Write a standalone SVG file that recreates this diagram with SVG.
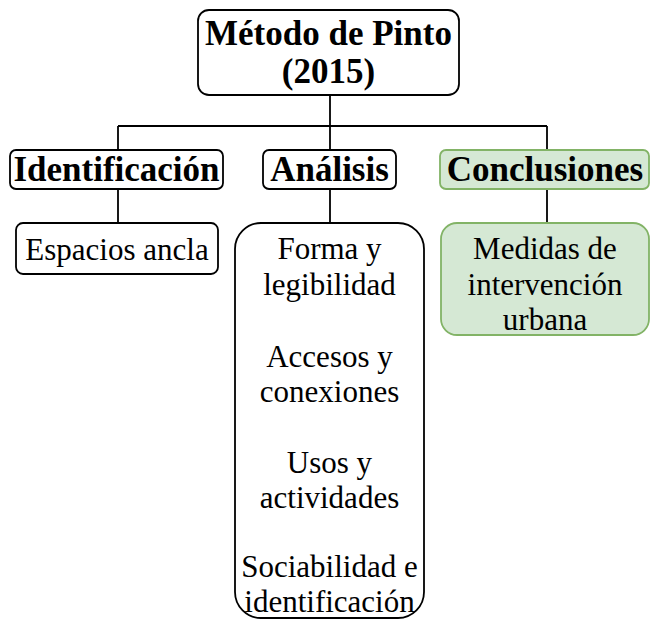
<svg xmlns="http://www.w3.org/2000/svg" width="652" height="620" viewBox="0 0 652 620">
<style>
.box{fill:#fff;stroke:#000;stroke-width:1.8}
.green{fill:#d5e8d4;stroke:#82b366;stroke-width:1.8}
.t{font-family:"Liberation Serif","Times New Roman",serif;font-size:31px;fill:#000;text-anchor:middle}
.b{font-family:"Liberation Serif","Times New Roman",serif;font-size:35px;font-weight:bold;fill:#000;text-anchor:middle}
.c{fill:none;stroke:#000;stroke-width:1.8}
</style>
<g id="connectors">
<path class="c" d="M330 95V126M118 126H547M118 126V150M330 126V150M547 126V150"/>
<path class="c" d="M118 189V223M330 189V223M547 189V223"/>
</g>
<g id="root">
<rect class="box" x="198" y="10" width="261" height="85" rx="11"/>
<text class="b" x="328.500" y="45">Método de Pinto</text>
<text class="b" x="328.500" y="83">(2015)</text>
</g>
<g id="identificacion">
<rect class="box" x="10" y="150" width="213" height="39" rx="6"/>
<text class="b" x="116.500" y="181">Identificación</text>
</g>
<g id="analisis">
<rect class="box" x="263" y="150" width="133" height="39" rx="6"/>
<text class="b" x="329.500" y="181">Análisis</text>
</g>
<g id="conclusiones">
<rect class="green" x="440" y="150" width="209" height="39" rx="6"/>
<text class="b" x="545" y="181">Conclusiones</text>
</g>
<g id="espacios">
<rect class="box" x="16" y="223" width="202" height="51" rx="7"/>
<text class="t" x="117" y="260">Espacios ancla</text>
</g>
<g id="analisis-items">
<rect class="box" x="235" y="223" width="189" height="395" rx="26"/>
<text class="t" x="329.500" y="259">Forma y</text>
<text class="t" x="329.500" y="295">legibilidad</text>
<text class="t" x="329.500" y="367">Accesos y</text>
<text class="t" x="329.500" y="402">conexiones</text>
<text class="t" x="329.500" y="473">Usos y</text>
<text class="t" x="329.500" y="508">actividades</text>
<text class="t" x="329.500" y="577">Sociabilidad e</text>
<text class="t" x="329.500" y="612">identificación</text>
</g>
<g id="medidas">
<rect class="green" x="441" y="223" width="208" height="112" rx="16"/>
<text class="t" x="545" y="259">Medidas de</text>
<text class="t" x="545" y="295">intervención</text>
<text class="t" x="545" y="330">urbana</text>
</g>
</svg>
